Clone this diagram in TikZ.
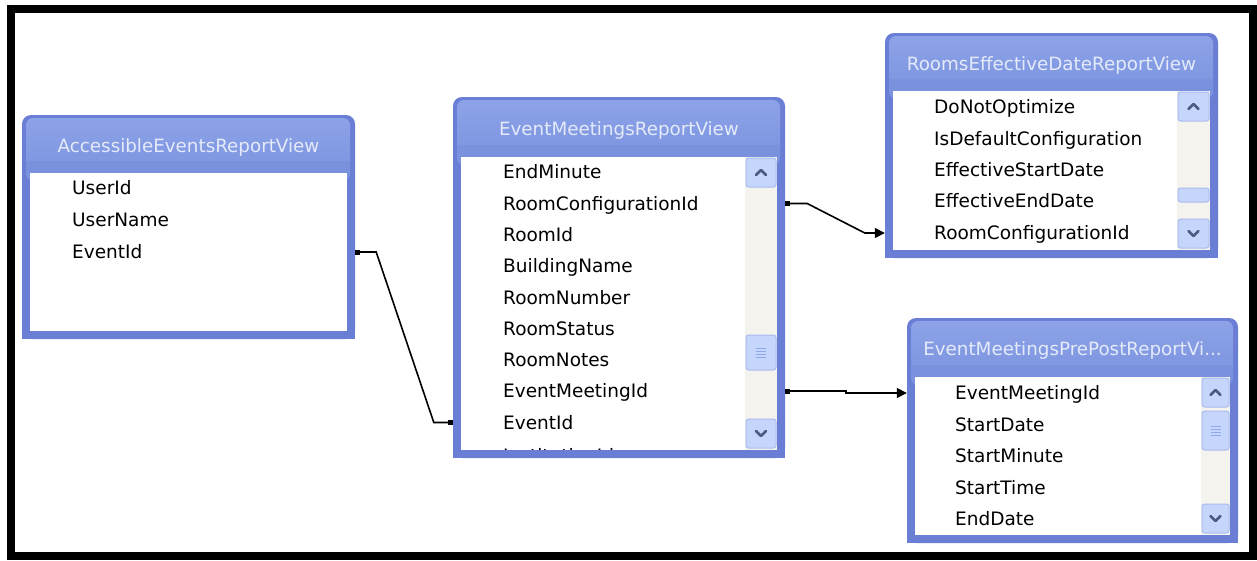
\documentclass[tikz,border=0pt]{standalone}
\usepackage{fontspec}
\setmainfont{DejaVu Sans}
\usetikzlibrary{arrows.meta,calc,fit}
\definecolor{frameblue}{HTML}{6A7ED6}
\definecolor{headblue}{HTML}{7A92DE}
\definecolor{headtop}{HTML}{8CA3E8}
\definecolor{titlecol}{HTML}{E4EAF9}
\definecolor{trackcol}{HTML}{F4F3EE}
\definecolor{btnfill}{HTML}{C6D5FC}
\definecolor{btnedge}{HTML}{A8BCF0}
\definecolor{glyphcol}{HTML}{4B5C82}
\definecolor{gripcol}{HTML}{8FA8EC}
\tikzset{
  rowtext/.style={anchor=west, inner sep=0pt, text height=13pt, text depth=0pt,
    font=\fontsize{18.5}{20}\selectfont, text=black},
  titletext/.style={inner sep=0pt, text=titlecol, font=\fontsize{18.3}{20}\selectfont},
  btn/.style={fill=btnfill, draw=btnedge, line width=1pt, rounded corners=2.5pt},
  glyph/.style={draw=glyphcol, line width=2.6pt, line cap=round, line join=round},
  gripline/.style={draw=gripcol, line width=0.9pt},
  conn/.style={draw=black, line width=1.6pt},
  tablebox/.style={inner sep=0pt, draw=none}
}
% #1 name, #2 x1, #3 y1, #4 x2, #5 y2, #6 header bottom, #7 title
\newcommand\dbtable[7]{%
  \fill[frameblue, rounded corners=9pt] (#2,#3) rectangle (#4,#5);
  \fill[frameblue] (#2,#6) rectangle (#4,#5);
  \shade[top color=headtop, bottom color=headblue, rounded corners=7pt] (#2+4,#3+3) rectangle (#4-5,#6+8);
  \fill[headblue] (#2+4,#6-12) rectangle (#4-5,#6);
  \fill[white] (#2+8,#6) rectangle (#4-8,#5-8);
  \node[tablebox, fit={(#2,#3) (#4,#5)}] (#1) {};
  \node[titletext] (#1-title) at ({(#2+#4)/2},{(#3+#6)/2+3}) {#7};
}
% #1 x1, #2 x2, #3 ytop, #4 ybot, #5 thumb top, #6 thumb bottom, #7 grip (1/0)
\newcommand\dbscroll[7]{%
  \fill[trackcol] (#1,#3) rectangle (#2,#4);
  \path[btn] (#1+1,#3+1) rectangle (#2-1,#3+30);
  \draw[glyph] ({(#1+#2)/2-5},#3+18) -- ({(#1+#2)/2},#3+13) -- ({(#1+#2)/2+5},#3+18);
  \path[btn] (#1+1,#4-31) rectangle (#2-1,#4-2);
  \draw[glyph] ({(#1+#2)/2-5},#4-19) -- ({(#1+#2)/2},#4-14) -- ({(#1+#2)/2+5},#4-19);
  \path[btn] (#1+1,#5) rectangle (#2-1,#6);
  \ifnum#7=1
    \foreach \k in {-4.5,-1.5,1.5,4.5}
      \draw[gripline] ({(#1+#2)/2-5},{(#5+#6)/2+\k}) -- ++(10,0);
  \fi
}
\begin{document}
\begin{tikzpicture}[x=1pt,y=-1pt]
\useasboundingbox (0,0) rectangle (1257,560);
\fill[white] (0,0) rectangle (1257,560);
\draw[line width=8pt] (11,9) rectangle (1253,556);

% tables
\dbtable{A}{22}{115}{355}{339}{173}{AccessibleEventsReportView}
\dbtable{M}{453}{97}{785}{458}{157}{EventMeetingsReportView}
\dbtable{R}{885}{33}{1218}{258}{91}{RoomsEffectiveDateReportView}
\dbtable{P}{907}{318}{1238}{543}{377}{EventMeetingsPrePostReportVi...}

% scrollbars
\dbscroll{745}{777}{157}{450}{335}{370}{1}
\dbscroll{1177}{1210}{91}{250}{188}{202}{0}
\dbscroll{1201}{1230}{377}{535}{411}{450}{1}

% rows
\node[rowtext] (a1) at (72,188) {UserId};
\node[rowtext] (a2) at (72,220) {UserName};
\node[rowtext] (a3) at (72,252) {EventId};

\begin{scope}
\clip (461,157) rectangle (745,449);
\node[rowtext] (m1) at (503,172) {EndMinute};
\node[rowtext] (m2) at (503,203.5) {RoomConfigurationId};
\node[rowtext] (m3) at (503,235) {RoomId};
\node[rowtext] (m4) at (503,266) {BuildingName};
\node[rowtext] (m5) at (503,297.5) {RoomNumber};
\node[rowtext] (m6) at (503,328.5) {RoomStatus};
\node[rowtext] (m7) at (503,360) {RoomNotes};
\node[rowtext] (m8) at (503,391) {EventMeetingId};
\node[rowtext] (m9) at (503,422.5) {EventId};
\node[rowtext] (m10) at (503,456) {InstitutionId};
\end{scope}

\node[rowtext] (r1) at (934,107) {DoNotOptimize};
\node[rowtext] (r2) at (934,138.5) {IsDefaultConfiguration};
\node[rowtext] (r3) at (934,170) {EffectiveStartDate};
\node[rowtext] (r4) at (934,201) {EffectiveEndDate};
\node[rowtext] (r5) at (934,233) {RoomConfigurationId};

\node[rowtext] (p1) at (955,393) {EventMeetingId};
\node[rowtext] (p2) at (955,425) {StartDate};
\node[rowtext] (p3) at (955,456) {StartMinute};
\node[rowtext] (p4) at (955,488) {StartTime};
\node[rowtext] (p5) at (955,519) {EndDate};

% connectors
\draw[conn, {Square[length=5pt,width=5pt]}-{Square[length=5pt,width=5pt]}]
  (A.east |- a3) -- ++(21,0) -- ($(M.west |- m9)+(-19,0)$) -- (M.west |- m9);
\draw[conn, {Square[length=5pt,width=5pt]}-{Triangle[length=10pt,width=10pt]}]
  (M.east |- m2) -- ++(22,0) -- ($(R.west |- r5)+(-20,0)$) -- (R.west |- r5);
\draw[conn, {Square[length=5pt,width=5pt]}-{Triangle[length=10pt,width=10pt]}]
  (M.east |- m8) -- ++(61,0) -- ++(0,2) -- (P.west |- p1);
\end{tikzpicture}
\end{document}
